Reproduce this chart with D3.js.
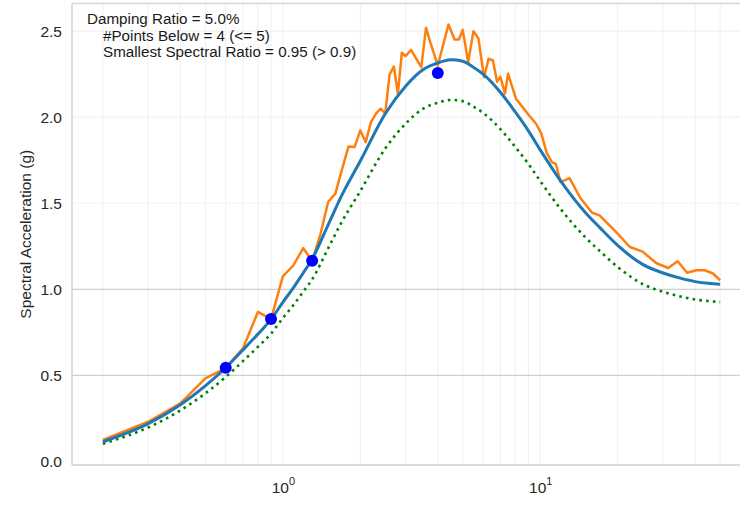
<!DOCTYPE html>
<html>
<head>
<meta charset="utf-8">
<script src="https://cdn.jsdelivr.net/npm/d3@7"></script>
<style>
  html, body { margin: 0; padding: 0; background: #ffffff; }
  svg { display: block; font-family: "Liberation Sans", Arial, sans-serif; }
</style>
</head>
<body>
<svg id="chart" width="740" height="505"></svg>
<script>
// Target spectrum (smooth design curve)
const targetPeriods = [0.2, 0.3, 0.4, 0.5, 0.6, 0.7, 0.8, 0.9, 1.0, 1.1, 1.2, 1.3, 1.5, 1.7, 2.0, 2.5, 3.0, 3.5, 4.0, 4.5, 5.0, 5.5, 6.0, 7.0, 8.0, 9.0, 10, 12, 15, 17, 20, 25, 30, 35, 40, 45, 50];
const targetSa = [0.115, 0.22, 0.33, 0.44, 0.545, 0.648, 0.74, 0.826, 0.925, 1.01, 1.095, 1.175, 1.375, 1.55, 1.745, 2.02, 2.18, 2.275, 2.315, 2.333, 2.325, 2.29, 2.25, 2.145, 2.03, 1.92, 1.81, 1.63, 1.445, 1.36, 1.255, 1.145, 1.095, 1.065, 1.045, 1.035, 1.03];
// Lower limit curve (90% of target)
const lowerSa = [0.104, 0.198, 0.297, 0.396, 0.491, 0.583, 0.666, 0.743, 0.833, 0.909, 0.986, 1.058, 1.238, 1.395, 1.571, 1.818, 1.962, 2.048, 2.084, 2.100, 2.093, 2.061, 2.025, 1.931, 1.827, 1.728, 1.629, 1.467, 1.301, 1.224, 1.130, 1.031, 0.986, 0.959, 0.941, 0.932, 0.927];

// Response spectrum of the record
const recordPeriods = [0.2, 0.3, 0.4, 0.5, 0.6, 0.7, 0.8, 0.9, 1.0, 1.1, 1.2, 1.3, 1.4, 1.5, 1.6, 1.7, 1.8, 1.9, 2.0, 2.1, 2.2, 2.3, 2.4, 2.5, 2.6, 2.7, 2.8, 2.9, 3.0, 3.15, 3.45, 3.6, 3.75, 4.0, 4.4, 4.65, 4.83, 5.0, 5.25, 5.5, 5.75, 6.05, 6.3, 6.55, 6.8, 7.0, 7.3, 7.5, 8.05, 8.55, 9.05, 9.65, 10.1, 10.6, 11.1, 11.5, 12.0, 13.0, 14.3, 15.9, 17.0, 19.4, 22.3, 25.0, 28.2, 31.4, 34.2, 37.2, 40.4, 43.6, 46.9, 50.0];
const recordSa = [0.125, 0.231, 0.338, 0.483, 0.543, 0.657, 0.869, 0.827, 1.075, 1.14, 1.24, 1.165, 1.32, 1.507, 1.556, 1.70, 1.83, 1.826, 1.923, 1.855, 1.971, 2.02, 2.049, 2.02, 2.248, 2.294, 2.136, 2.374, 2.355, 2.391, 2.29, 2.519, 2.43, 2.30, 2.538, 2.451, 2.451, 2.507, 2.319, 2.499, 2.458, 2.232, 2.339, 2.329, 2.205, 2.234, 2.137, 2.252, 2.107, 2.058, 2.01, 1.96, 1.904, 1.793, 1.739, 1.728, 1.623, 1.646, 1.532, 1.445, 1.43, 1.344, 1.246, 1.219, 1.153, 1.124, 1.163, 1.096, 1.111, 1.111, 1.092, 1.053];

// Points where the record falls below the target
const belowPeriods = [0.6, 0.9, 1.3, 4.0];
const belowSa = [0.545, 0.828, 1.166, 2.256];

const yTicks = [0.0, 0.5, 1.0, 1.5, 2.0, 2.5];
const xMajorTicks = [1, 10];
const xMinorTicks = [0.2, 0.3, 0.4, 0.5, 0.6, 0.7, 0.8, 0.9, 2, 3, 4, 5, 6, 7, 8, 9, 20, 30, 40, 50, 60];
const infoLines = ["Damping Ratio = 5.0%", "#Points Below = 4 (<= 5)", "Smallest Spectral Ratio = 0.95 (> 0.9)"];

const svg = d3.select("#chart");
const plotLeft = 72, plotRight = 751, plotTop = 3.5, plotBottom = 465;

const x = d3.scaleLog().domain([0.1517, 65.9]).range([plotLeft, plotRight]);
const y = d3.scaleLinear().domain([-0.02, 2.66]).range([plotBottom, plotTop]);

const plot = svg.append("g");

// vertical grid (major + minor on the log axis)
plot.append("g").selectAll("line")
  .data(xMinorTicks.concat(xMajorTicks))
  .join("line")
  .attr("x1", d => x(d)).attr("x2", d => x(d))
  .attr("y1", plotTop).attr("y2", plotBottom)
  .attr("stroke", "#efefef").attr("stroke-width", 1);

// horizontal grid
plot.append("g").selectAll("line")
  .data(yTicks.filter(d => d > 0))
  .join("line")
  .attr("x1", plotLeft).attr("x2", plotRight)
  .attr("y1", d => y(d)).attr("y2", d => y(d))
  .attr("stroke", d => d <= 1.0 ? "#cfcfcf" : "#f2f2f2")
  .attr("stroke-width", 1.2);

// frame
plot.append("line").attr("x1", plotLeft).attr("x2", plotRight).attr("y1", plotBottom).attr("y2", plotBottom)
  .attr("stroke", "#cfcfcf").attr("stroke-width", 1.4);
plot.append("line").attr("x1", plotLeft).attr("x2", plotRight).attr("y1", plotTop).attr("y2", plotTop)
  .attr("stroke", "#d6d6d6").attr("stroke-width", 1.4);
plot.append("line").attr("x1", plotLeft).attr("x2", plotLeft).attr("y1", plotTop).attr("y2", plotBottom)
  .attr("stroke", "#cfcfcf").attr("stroke-width", 1.4);

// y axis tick labels
const yAxis = d3.axisLeft(y).tickValues(yTicks).tickFormat(d3.format(".1f")).tickSize(0).tickPadding(10);
const gy = svg.append("g").attr("transform", `translate(${plotLeft},0)`).call(yAxis);
gy.select(".domain").remove();
gy.selectAll("text").attr("font-size", 15.5).attr("fill", "#262626")
  .attr("font-family", "'Liberation Sans', Arial, sans-serif");

// x axis tick labels: powers of ten
const xAxis = d3.axisBottom(x).tickValues(xMajorTicks).tickSize(0).tickFormat("");
const gx = svg.append("g").attr("transform", `translate(0,${plotBottom})`).call(xAxis);
gx.select(".domain").remove();
gx.selectAll(".tick").each(function(d) {
  const t = d3.select(this).append("text")
    .attr("y", 28).attr("text-anchor", "middle")
    .attr("font-size", 15.5).attr("fill", "#262626")
    .attr("font-family", "'Liberation Sans', Arial, sans-serif");
  t.append("tspan").text("10");
  t.append("tspan").attr("dy", -8).attr("font-size", 11).text(String(Math.round(Math.log10(d))));
});

// y axis title
svg.append("text")
  .attr("transform", `translate(31,${(plotTop + plotBottom) / 2}) rotate(-90)`)
  .attr("text-anchor", "middle")
  .attr("font-size", 15.5).attr("fill", "#262626")
  .text("Spectral Acceleration (g)");

// curves
svg.append("clipPath").attr("id", "plotclip")
  .append("rect").attr("x", plotLeft).attr("y", plotTop)
  .attr("width", plotRight - plotLeft).attr("height", plotBottom - plotTop);

const smooth = d3.line().x(d => x(d[0])).y(d => y(d[1])).curve(d3.curveMonotoneX);
const straight = d3.line().x(d => x(d[0])).y(d => y(d[1]));

const series = svg.append("g").attr("clip-path", "url(#plotclip)");

series.append("path")
  .attr("d", smooth(d3.zip(targetPeriods, lowerSa)))
  .attr("fill", "none").attr("stroke", "#008000")
  .attr("stroke-width", 2.6).attr("stroke-dasharray", "2.6 4.2");

series.append("path")
  .attr("d", straight(d3.zip(recordPeriods, recordSa)))
  .attr("fill", "none").attr("stroke", "#ff7f0e")
  .attr("stroke-width", 2.5).attr("stroke-linejoin", "round");

series.append("path")
  .attr("d", smooth(d3.zip(targetPeriods, targetSa)))
  .attr("fill", "none").attr("stroke", "#1f77b4")
  .attr("stroke-width", 3).attr("stroke-linejoin", "round");

series.append("g").selectAll("circle")
  .data(d3.zip(belowPeriods, belowSa))
  .join("circle")
  .attr("cx", d => x(d[0])).attr("cy", d => y(d[1]))
  .attr("r", 6).attr("fill", "#0000ff");

// info block
const info = svg.append("text")
  .attr("font-size", 15.2).attr("fill", "#1a1a1a");
infoLines.forEach((line, i) => {
  info.append("tspan")
    .attr("x", i === 0 ? 87 : 103)
    .attr("y", 24 + i * 16.7)
    .text(line);
});
</script>
</body>
</html>
